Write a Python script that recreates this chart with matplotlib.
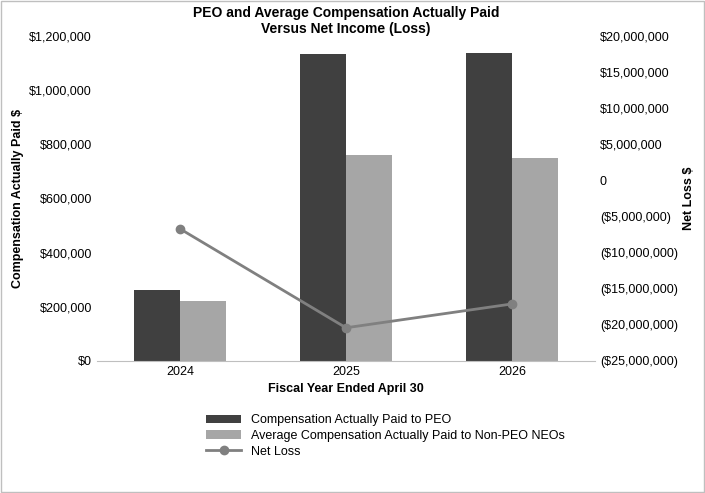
import matplotlib
matplotlib.use("Agg")
import matplotlib.pyplot as plt
from matplotlib.ticker import FuncFormatter
import numpy as np

years = ["2024", "2025", "2026"]
peo = [262000, 1133000, 1137000]
neo = [221000, 761000, 750000]
net_loss = [-6700000, -20400000, -17100000]

plt.rcParams['font.family'] = ['Liberation Sans', 'DejaVu Sans']
fig = plt.figure(figsize=(7.05, 4.93), dpi=100)
ax = fig.add_axes([97/705, 1-361/493, (595-97)/705, (361-36)/493])
x = np.arange(len(years))
w = 0.28
ax.bar(x - w/2, peo, w, color="#404040", label="Compensation Actually Paid to PEO")
ax.bar(x + w/2, neo, w, color="#a6a6a6", label="Average Compensation Actually Paid to Non-PEO NEOs")
ax.set_ylim(0, 1200000)
ax.set_yticks(np.arange(0, 1200001, 200000))
ax.yaxis.set_major_formatter(FuncFormatter(lambda v, p: f"${v:,.0f}"))
ax.set_xlim(-0.5, 2.5)
ax.set_xticks(x)
ax.set_xticklabels(years)
ax.tick_params(length=0, labelsize=9)
for s in ["top", "left", "right"]:
    ax.spines[s].set_visible(False)
ax.spines["bottom"].set_color("#bfbfbf")
ax.set_xlabel("Fiscal Year Ended April 30", fontsize=9, fontweight="bold")
ax.set_ylabel("Compensation Actually Paid $", fontsize=9, fontweight="bold")

ax2 = ax.twinx()
ax2.plot(x, net_loss, color="#808080", lw=2, marker="o", ms=6, label="Net Loss")
ax2.set_ylim(-25000000, 20000000)
ax2.set_yticks(np.arange(-25000000, 20000001, 5000000))
def rf(v, p):
    if v < 0:
        return f"(${-v:,.0f})"
    if v == 0:
        return "0"
    return f"${v:,.0f}"
ax2.yaxis.set_major_formatter(FuncFormatter(rf))
ax2.tick_params(length=0, labelsize=9)
for s in ["top", "left", "right", "bottom"]:
    ax2.spines[s].set_visible(False)
ax2.set_ylabel("Net Loss $", fontsize=9, fontweight="bold")

ax.set_title("PEO and Average Compensation Actually Paid\nVersus Net Income (Loss)", fontsize=10, fontweight="bold", pad=2)

h1, l1 = ax.get_legend_handles_labels()
h2, l2 = ax2.get_legend_handles_labels()
fig.legend(h1 + h2, l1 + l2, loc="upper left", bbox_to_anchor=(200/705, 1-408/493), frameon=False, fontsize=9, handlelength=2.8, labelspacing=0.3, borderpad=0)

fig.patches.append(plt.Rectangle((0.002, 0.002), 0.996, 0.996, transform=fig.transFigure, fill=False, edgecolor="#bfbfbf", lw=1))
fig.savefig("out.png", dpi=100)
